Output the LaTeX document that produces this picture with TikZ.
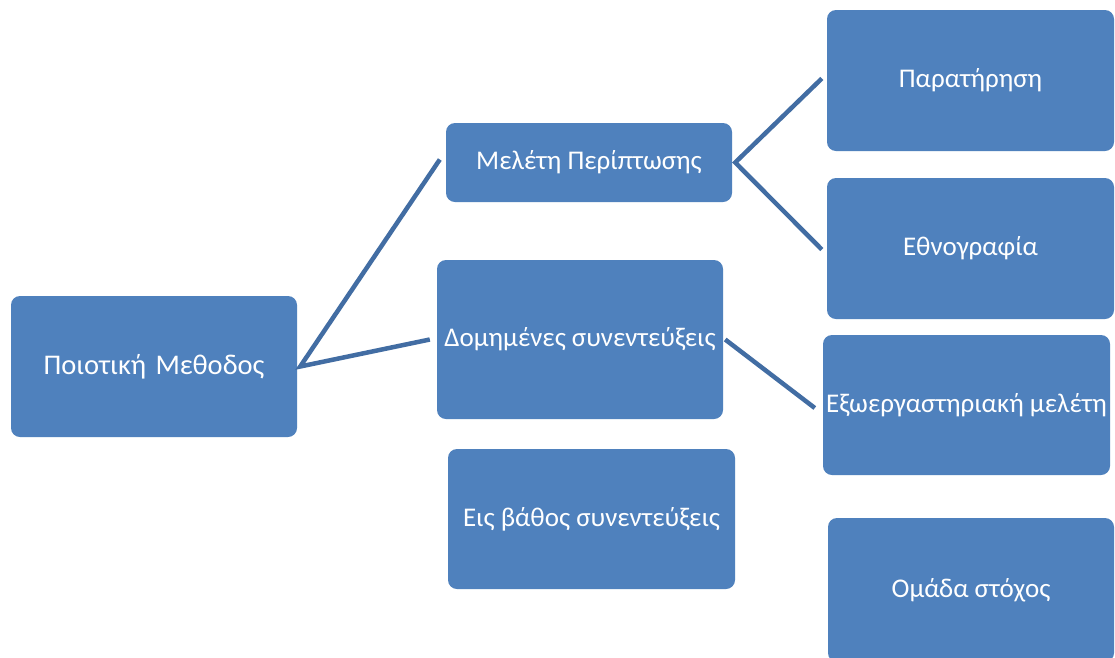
\documentclass[tikz,border=0pt]{standalone}
\usepackage{fontspec}
\setmainfont{Carlito}
\definecolor{boxblue}{RGB}{79,129,189}
\definecolor{lineblue}{RGB}{66,109,163}
\begin{document}
\begin{tikzpicture}[x=1pt,y=-1pt,
  box/.style={fill=boxblue,draw=none,rounded corners=9pt,text=white,font=\fontsize{27}{32}\selectfont,inner sep=0pt},
  conn/.style={draw=lineblue,line width=4.5pt}]
\clip (0,0) rectangle (1115,657);
\fill[white] (0,0) rectangle (1115,657);
% boxes: defined by corners
\newcommand{\bx}[7][]{\node[box,#1,minimum width=#5-#3,minimum height=#6-#4] (#2) at ({(#3+#5)/2},{(#4+#6)/2}) {#7};}
\bx[font=\fontsize{28.5}{33}\selectfont]{root}{11}{296}{297}{437}{Ποιοτική\hspace{0.1em} Μεθοδος}
\bx{case}{446}{123}{732}{202}{Μελέτη Περίπτωσης}
\bx{struct}{437}{260}{723}{419}{Δομημένες συνεντεύξεις}
\bx{deep}{448}{449}{735}{589}{Εις βάθος συνεντεύξεις}
\bx{obs}{827}{10}{1114}{151}{Παρατήρηση}
\bx{eth}{827}{178}{1114}{319}{Εθνογραφία}
\bx{field}{823}{335}{1110}{475}{Εξωεργαστηριακή μελέτη}
\bx{focus}{828}{518}{1114}{662}{Ομάδα στόχος}
\coordinate (rj) at ([xshift=3pt]root.east);
\coordinate (cj) at ([xshift=3pt]case.east);
\draw[conn] ([xshift=-6pt,yshift=3pt]case.west) -- (rj) -- ([xshift=-7pt]struct.west);
\draw[conn] ([xshift=-5pt,yshift=2pt]obs.west) -- (cj) -- ([xshift=-5pt,yshift=-1pt]eth.west);
\draw[conn] ([xshift=2pt]struct.east) -- ([xshift=-8pt,yshift=-3pt]field.west);
\end{tikzpicture}
\end{document}
